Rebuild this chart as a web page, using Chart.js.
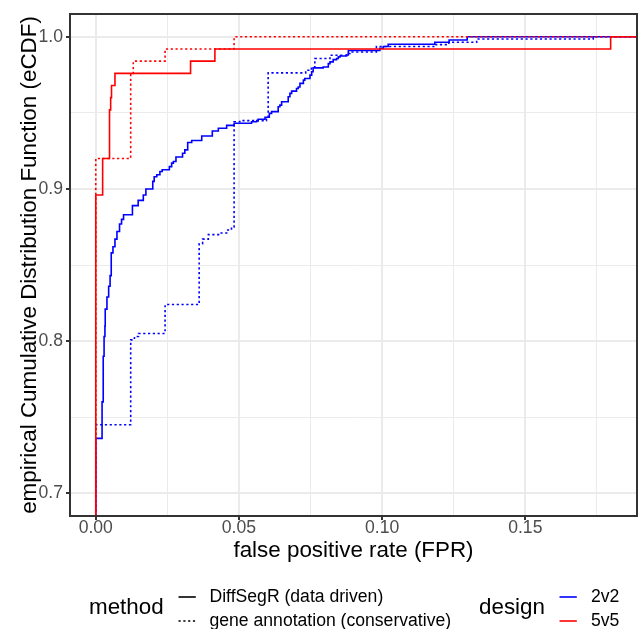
<!DOCTYPE html>
<html>
<head>
<meta charset="utf-8">
<script src="https://cdn.jsdelivr.net/npm/chart.js@4.4.1/dist/chart.umd.min.js"></script>
<style>
  html, body { margin: 0; padding: 0; background: #ffffff; }
</style>
</head>
<body>
<canvas id="chart" width="639" height="629"></canvas>
<script>
/* ---------------- data ---------------- */

// 5v5, DiffSegR (data driven)
const fpr5Diff  = [0, 0.0024, 0.0048, 0.0052, 0.0055, 0.0067, 0.0331, 0.0416, 0.1798];
const ecdf5Diff = [0.896, 0.920, 0.952, 0.960, 0.968, 0.976, 0.984, 0.992, 1.000];

// 5v5, gene annotation (conservative)
const fpr5Gene  = [0, 0.0122, 0.0131, 0.0242, 0.0483];
const ecdf5Gene = [0.920, 0.976, 0.984, 0.992, 1.000];

// 2v2, DiffSegR (data driven)
const fpr2Diff = [
  0, 0.0022, 0.0026, 0.0029, 0.0032, 0.0033, 0.0039, 0.0045, 0.0050, 0.0054,
  0.0060, 0.0067, 0.0074, 0.0083, 0.0090, 0.0097, 0.0128, 0.0148, 0.0166, 0.0175,
  0.0199, 0.0204, 0.0213, 0.0224, 0.0232, 0.0257, 0.0265, 0.0271, 0.0280, 0.0303,
  0.0311, 0.0321, 0.0335, 0.0370, 0.0407, 0.0428, 0.0457, 0.0483, 0.0544, 0.0562,
  0.0567, 0.0591, 0.0606, 0.0614, 0.0637, 0.0643, 0.0649, 0.0672, 0.0678, 0.0684,
  0.0701, 0.0707, 0.0713, 0.0725, 0.0730, 0.0748, 0.0754, 0.0759, 0.0794, 0.0812,
  0.0818, 0.0829, 0.0841, 0.0847, 0.0853, 0.0876, 0.0882, 0.0992, 0.1004, 0.1021,
  0.1184, 0.1234, 0.1297
];
const ecdf2Diff = [
  0.736, 0.760, 0.790, 0.803, 0.810, 0.821, 0.829, 0.836, 0.843, 0.858,
  0.862, 0.867, 0.872, 0.877, 0.880, 0.883, 0.889, 0.8925, 0.896, 0.900,
  0.905, 0.908, 0.9093, 0.9115, 0.9126, 0.9147, 0.917, 0.918, 0.921, 0.9235,
  0.9257, 0.9305, 0.9318, 0.9348, 0.9381, 0.9399, 0.9418, 0.9432, 0.9442, 0.9449,
  0.9458, 0.9471, 0.9497, 0.9508, 0.954, 0.9551, 0.9573, 0.9606, 0.9628, 0.9643,
  0.966, 0.967, 0.9694, 0.9715, 0.9726, 0.9748, 0.977, 0.9796, 0.9802, 0.9824,
  0.9835, 0.985, 0.9857, 0.9868, 0.9874, 0.988, 0.991, 0.9925, 0.9936, 0.9951,
  0.9964, 0.9979, 1.000
];

// 2v2, gene annotation (conservative)
const fpr2Gene = [
  0, 0.0122, 0.0135, 0.0149, 0.0242, 0.0361, 0.0373, 0.0393, 0.0433, 0.0457,
  0.0474, 0.0483, 0.0503, 0.0596, 0.0602, 0.0733, 0.0753, 0.0765, 0.0818, 0.0882,
  0.0888, 0.0980, 0.1186, 0.1233, 0.1330, 0.1737
];
const ecdf2Gene = [
  0.745, 0.8008, 0.803, 0.805, 0.824, 0.864, 0.867, 0.870, 0.871, 0.873,
  0.875, 0.9442, 0.9449, 0.9468, 0.9763, 0.978, 0.980, 0.9857, 0.9879, 0.989,
  0.990, 0.9936, 0.9949, 0.9964, 0.9986, 1.000
];

const methodLabels = ["DiffSegR (data driven)", "gene annotation (conservative)"];
const designLabels = ["2v2", "5v5"];
const designColors = ["#0000FF", "#FF0000"];

const xMajor = [0, 0.05, 0.10, 0.15];
const xMinor = [0.025, 0.075, 0.125, 0.175];
const yMajor = [0.7, 0.8, 0.9, 1.0];
const yMinor = [0.75, 0.85, 0.95];

/* ---------------- helpers ---------------- */

const FONT = "'Liberation Sans', Arial, Helvetica, sans-serif";
const TITLE_SIZE = 22.4;
const TEXT_SIZE = 17.6;
const DOTTED = [2.2, 2.6];
const LINE_W = 1.6;

// ecdf padding like stat_ecdf(pad = TRUE): start from 0, end at 1 past the panel
const ecdfPoints = (xs, ys) => {
    const pts = [{ x: xs[0], y: 0 }];
    xs.forEach((x, i) => pts.push({ x: x, y: ys[i] }));
    pts.push({ x: 1, y: 1 });
    return pts;
};

const setTicks = (major, minor) => (scale) => {
    const list = major.map(v => ({ value: v, minor: false }))
        .concat(minor.map(v => ({ value: v, minor: true })));
    list.sort((a, b) => a.value - b.value);
    scale.ticks = list;
};

const gridOpts = {
    color: "#EBEBEB",
    lineWidth: (c) => (c.tick && c.tick.minor ? 1 : 2),
    drawTicks: true,
    tickLength: 4,
    tickWidth: 2,
    tickColor: (c) => (c.tick && c.tick.minor ? "rgba(0,0,0,0)" : "#333333")
};

/* panel border + ggplot-like legend */
const panelBorder = {
    id: "panelBorder",
    afterDatasetsDraw(chart) {
        const { ctx, chartArea: a } = chart;
        ctx.save();
        ctx.strokeStyle = "#333333";
        ctx.lineWidth = 2;
        ctx.strokeRect(a.left, a.top, a.right - a.left, a.bottom - a.top);
        ctx.restore();
    }
};

const ggLegend = {
    id: "ggLegend",
    afterDraw(chart) {
        const ctx = chart.ctx;
        ctx.save();
        ctx.textBaseline = "middle";
        ctx.fillStyle = "#000000";

        const rows = [597, 621];

        // method block
        ctx.font = TITLE_SIZE + "px " + FONT;
        ctx.fillText("method", 89, 608);
        ctx.font = TEXT_SIZE + "px " + FONT;
        methodLabels.forEach((lab, i) => {
            ctx.beginPath();
            ctx.strokeStyle = "#000000";
            ctx.lineWidth = LINE_W;
            ctx.setLineDash(i === 0 ? [] : DOTTED);
            ctx.moveTo(178.5, rows[i]);
            ctx.lineTo(195.8, rows[i]);
            ctx.stroke();
            ctx.fillText(lab, 209.5, rows[i]);
        });

        // design block
        ctx.setLineDash([]);
        ctx.font = TITLE_SIZE + "px " + FONT;
        ctx.fillText("design", 479, 608);
        ctx.font = TEXT_SIZE + "px " + FONT;
        designLabels.forEach((lab, i) => {
            ctx.beginPath();
            ctx.strokeStyle = designColors[i];
            ctx.lineWidth = LINE_W;
            ctx.moveTo(559.5, rows[i]);
            ctx.lineTo(576.8, rows[i]);
            ctx.stroke();
            ctx.fillText(lab, 591, rows[i]);
        });
        ctx.restore();
    }
};

/* ---------------- chart ---------------- */

const ctx = document.getElementById("chart");

const stepLine = (label, xs, ys, color, dash) => ({
    label: label,
    data: ecdfPoints(xs, ys),
    borderColor: color,
    borderWidth: LINE_W,
    borderDash: dash,
    stepped: "before",
    pointRadius: 0,
    fill: false
});

new Chart(ctx, {
    type: "line",
    data: {
        datasets: [
            stepLine("5v5 DiffSegR", fpr5Diff, ecdf5Diff, designColors[1], []),
            stepLine("5v5 gene annotation", fpr5Gene, ecdf5Gene, designColors[1], DOTTED),
            stepLine("2v2 DiffSegR", fpr2Diff, ecdf2Diff, designColors[0], []),
            stepLine("2v2 gene annotation", fpr2Gene, ecdf2Gene, designColors[0], DOTTED)
        ]
    },
    options: {
        responsive: false,
        animation: false,
        devicePixelRatio: 1,
        layout: { padding: { top: 14, right: 2, left: 0, bottom: 63 } },
        plugins: {
            legend: { display: false },
            tooltip: { enabled: false }
        },
        scales: {
            x: {
                type: "linear",
                min: -0.009,
                max: 0.189,
                afterBuildTicks: setTicks(xMajor, xMinor),
                afterFit: (s) => { s.height = 50; },
                grid: gridOpts,
                border: { display: false },
                ticks: {
                    autoSkip: false,
                    maxRotation: 0,
                    padding: -2,
                    color: "#4D4D4D",
                    font: { family: FONT, size: TEXT_SIZE },
                    callback: (v) => (xMajor.some(m => Math.abs(m - v) < 1e-9) ? v.toFixed(2) : "")
                },
                title: {
                    display: true,
                    text: "false positive rate (FPR)",
                    color: "#000000",
                    font: { family: FONT, size: TITLE_SIZE },
                    padding: { top: 0, bottom: 2 }
                }
            },
            y: {
                type: "linear",
                min: 0.685,
                max: 1.015,
                afterBuildTicks: setTicks(yMajor, yMinor),
                afterFit: (s) => { s.width = 70; },
                grid: gridOpts,
                border: { display: false },
                ticks: {
                    autoSkip: false,
                    padding: 3,
                    color: "#4D4D4D",
                    font: { family: FONT, size: TEXT_SIZE },
                    callback: (v) => (yMajor.some(m => Math.abs(m - v) < 1e-9) ? v.toFixed(1) : "")
                },
                title: {
                    display: true,
                    text: "empirical Cumulative Distribution Function (eCDF)",
                    color: "#000000",
                    font: { family: FONT, size: TITLE_SIZE },
                    padding: { top: 16, bottom: 0 }
                }
            }
        }
    },
    plugins: [panelBorder, ggLegend]
});
</script>
</body>
</html>
